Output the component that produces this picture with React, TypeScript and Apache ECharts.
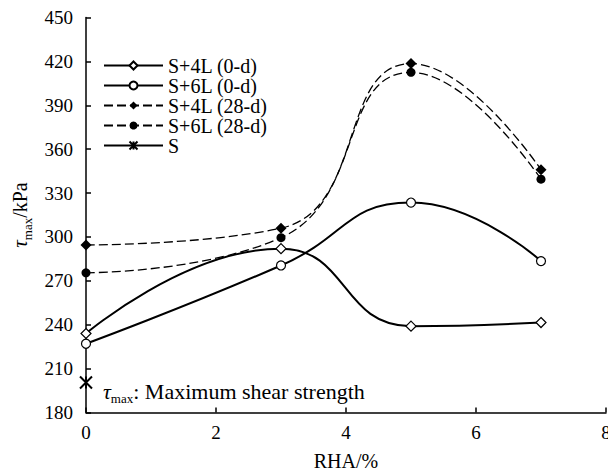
import React, { useEffect, useRef } from "react";
import * as echarts from "echarts";

const xValues = [0, 3, 5, 7];
const s4l0 = [234, 292, 239, 241.5];
const s6l0 = [227, 280.5, 323.5, 283.5];
const s4l28 = [294.5, 306, 418.5, 346];
const s6l28 = [275.5, 299.5, 412.5, 339.5];
const sOnly = [200.5];
const seriesNames = ["S+4L (0-d)", "S+6L (0-d)", "S+4L (28-d)", "S+6L (28-d)", "S"];
const xTicks = { min: 0, max: 8, interval: 2 };
const yTicks = { min: 180, max: 450, interval: 30 };

const FONT = "Liberation Serif";

const pair = (ys: number[]) => ys.map((y, i) => [xValues[i], y]);

export default function App() {
  const ref = useRef<HTMLDivElement>(null);
  useEffect(() => {
    if (!ref.current) return;
    const chart = echarts.init(ref.current, undefined, { renderer: "svg" });
    const rich = {
      t: { fontFamily: FONT, fontSize: 21, fontStyle: "italic", lineHeight: 28, color: "#000" },
      s: { fontFamily: FONT, fontSize: 13, lineHeight: 13, verticalAlign: "bottom", color: "#000" },
      n: { fontFamily: FONT, fontSize: 20, lineHeight: 28, color: "#000" },
    };
    const solid = { color: "#000", width: 2, type: "solid" as const };
    const dashed = { color: "#000", width: 1.3, type: [9, 4] };
    chart.setOption({
      animation: false,
      backgroundColor: "#fff",
      grid: { left: 86, right: 2, top: 17.5, bottom: 60.5, containLabel: false, outerBoundsMode: "none" },
      legend: {
        orient: "vertical",
        left: 103,
        top: 55.5,
        padding: 0,
        itemWidth: 59,
        itemHeight: 10,
        itemGap: 0,
        data: seriesNames,
        textStyle: { fontFamily: FONT, fontSize: 20, lineHeight: 20, color: "#000" },
      },
      xAxis: {
        type: "value",
        min: xTicks.min,
        max: xTicks.max,
        interval: xTicks.interval,
        name: "RHA/%",
        nameLocation: "middle",
        nameGap: 38,
        nameTextStyle: { fontFamily: FONT, fontSize: 20, color: "#000" },
        axisLine: { show: true, onZero: false, lineStyle: { color: "#000", width: 1.5 } },
        axisTick: { show: true, inside: true, length: 5, lineStyle: { color: "#000", width: 1.5 } },
        axisLabel: { fontFamily: FONT, fontSize: 19, color: "#000", margin: 10 },
        splitLine: { show: false },
      },
      yAxis: {
        type: "value",
        min: yTicks.min,
        max: yTicks.max,
        interval: yTicks.interval,
        name: "{t|τ}{s|max}{n|/kPa}",
        nameLocation: "middle",
        nameGap: 47,
        nameTextStyle: { rich },
        axisLine: { show: true, onZero: false, lineStyle: { color: "#000", width: 1.5 } },
        axisTick: { show: true, inside: true, length: 5, lineStyle: { color: "#000", width: 1.5 } },
        axisLabel: { fontFamily: FONT, fontSize: 19, color: "#000", margin: 13 },
        splitLine: { show: false },
      },
      graphic: [
        {
          type: "text",
          left: 103,
          top: 380,
          style: {
            text: "{t|τ}{s|max}{n|: Maximum shear strength}",
            rich: {
              t: { fontFamily: FONT, fontSize: 22, fontStyle: "italic", lineHeight: 28, fill: "#000" },
              s: { fontFamily: FONT, fontSize: 13, lineHeight: 13, verticalAlign: "bottom", fill: "#000" },
              n: { fontFamily: FONT, fontSize: 22, lineHeight: 28, fill: "#000" },
            },
          },
        },
      ],
      series: [
        {
          name: seriesNames[0],
          type: "line",
          smooth: 0.5,
          data: pair(s4l0),
          symbol: "diamond",
          symbolSize: 10,
          lineStyle: solid,
          itemStyle: { color: "#fff", borderColor: "#000", borderWidth: 1.2 },
          z: 3,
        },
        {
          name: seriesNames[1],
          type: "line",
          smooth: 0.5,
          data: pair(s6l0),
          symbol: "circle",
          symbolSize: 9,
          lineStyle: solid,
          itemStyle: { color: "#fff", borderColor: "#000", borderWidth: 1.2 },
          z: 3,
        },
        {
          name: seriesNames[2],
          type: "line",
          smooth: 0.5,
          data: pair(s4l28),
          symbol: "diamond",
          symbolSize: 11,
          lineStyle: dashed,
          itemStyle: { color: "#000", borderColor: "#000", borderWidth: 0 },
          z: 2,
        },
        {
          name: seriesNames[3],
          type: "line",
          smooth: 0.5,
          data: pair(s6l28),
          symbol: "circle",
          symbolSize: 9,
          lineStyle: dashed,
          itemStyle: { color: "#000", borderColor: "#000", borderWidth: 0 },
          z: 2,
        },
        {
          name: seriesNames[4],
          type: "line",
          data: sOnly.map((y) => [0, y]),
          symbol: "path://M0 0L10 10M10 0L0 10M5 0L5 10",
          symbolSize: 12,
          lineStyle: solid,
          itemStyle: { color: "none", borderColor: "#000", borderWidth: 2 },
          z: 4,
        },
      ],
    });
    return () => chart.dispose();
  }, []);
  return (
    <div
      ref={ref}
      style={{ position: "fixed", left: 0, top: 0, width: 608, height: 473, background: "#fff" }}
    />
  );
}
